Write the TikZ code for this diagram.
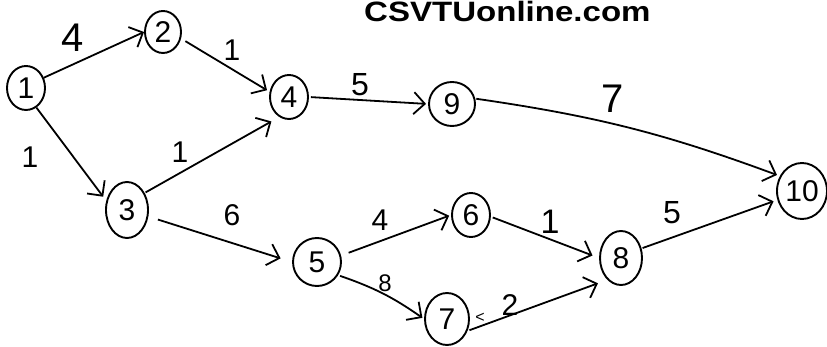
\documentclass[tikz,border=0pt]{standalone}
\usepackage{fontspec}
\setmainfont{Liberation Sans}
\usetikzlibrary{shapes.geometric,arrows.meta}

\tikzset{
  event/.style={ellipse, draw, line width=1.9pt, inner sep=0pt,
    font=\fontsize{30}{30}\selectfont},
  act/.style={line width=1.8pt,
    -{Straight Barb[length=11pt,width=22pt,line width=1.8pt]}},
  wt/.style={inner sep=0pt, font=\fontsize{30}{30}\selectfont},
}

\begin{document}
\begin{tikzpicture}[x=1pt,y=-1pt]
\useasboundingbox (0,0) rectangle (827,347);
\clip (0,0) rectangle (827,347);

% heading
\node[anchor=base west, inner sep=0pt, font=\bfseries\fontsize{28}{28}\selectfont]
  (title) at (364,22) {\scalebox{1.18}[1]{CSVTUonline.com}};

% events
\node[event, minimum width=38pt, minimum height=44pt] (n1)  at (26,88)   {1};
\node[event, minimum width=36pt, minimum height=42pt] (n2)  at (163,32)  {2};
\node[event, minimum width=38pt, minimum height=44pt] (n4)  at (289,97)  {4};
\node[event, minimum width=46pt, minimum height=44pt] (n9)  at (452,104) {9};
\node[event, minimum width=50pt, minimum height=56pt] (n10) at (802,191) {10};
\node[event, minimum width=42pt, minimum height=56pt] (n3)  at (127,210) {3};
\node[event, minimum width=48pt, minimum height=48pt] (n5)  at (317,262) {5};
\node[event, minimum width=38pt, minimum height=44pt] (n6)  at (471,215) {6};
\node[event, minimum width=42pt, minimum height=54pt] (n8)  at (621,258) {8};
\node[event, minimum width=44pt, minimum height=52pt] (n7)  at (447,319) {7};

% activities
\draw[act] (n1.30) -- (n2.180);
\draw[act, shorten <=5pt, shorten >=3pt] (n2.-20) -- (n4.165);
\draw[act, shorten <=2pt, shorten >=2pt] (n4.0) -- (n9.180);
\draw[act, shorten <=1pt, shorten >=9pt] (n3.44) -- (n4.244);
\draw[act, shorten >=5pt] (n1.-62) -- (n3.156);
\draw[act, shorten <=10pt, shorten >=12pt] (n3.-17) -- (n5.180);
\draw[act, shorten <=8pt, shorten >=2pt] (n5.15) -- (n6.180);
\draw[act, shorten <=2pt, shorten >=2pt] (n5.-32) to[bend left=8] (n7.180);
\draw[act, shorten <=2pt, shorten >=7pt] (n6.-5) -- (n8.180);
\draw[act, shorten <=1pt, shorten >=4pt] (n8.25) -- (n10.200);
\draw[act, shorten <=1pt, shorten >=3pt] (n9.13) to[bend left=6] (n10.146);
\draw[act, shorten <=2pt, shorten >=10pt] (n7.-30) -- (n8.238);

% durations
\node[wt, font=\fontsize{40}{40}\selectfont] (w12) at (73,38) {4};
\node[wt] (w24) at (232,50) {1};
\node[wt, font=\fontsize{32}{32}\selectfont] (w49) at (360,85) {5};
\node[wt] (w34) at (180,152) {1};
\node[wt] (w13) at (30,157) {1};
\node[wt] (w35) at (232,215) {6};
\node[wt] (w56) at (380,220) {4};
\node[wt, font=\fontsize{24}{24}\selectfont] (w57) at (385,283) {8};
\node[wt, font=\fontsize{34}{34}\selectfont] (w68) at (550,222) {1};
\node[wt, font=\fontsize{32}{32}\selectfont] (w810) at (672,213) {5};
\node[wt, font=\fontsize{40}{40}\selectfont] (w910) at (613,99) {7};
\node[wt] (w78) at (510,305) {2};
\node[wt, font=\fontsize{16}{16}\selectfont] (mark) at (480,318) {<};
\end{tikzpicture}
\end{document}
